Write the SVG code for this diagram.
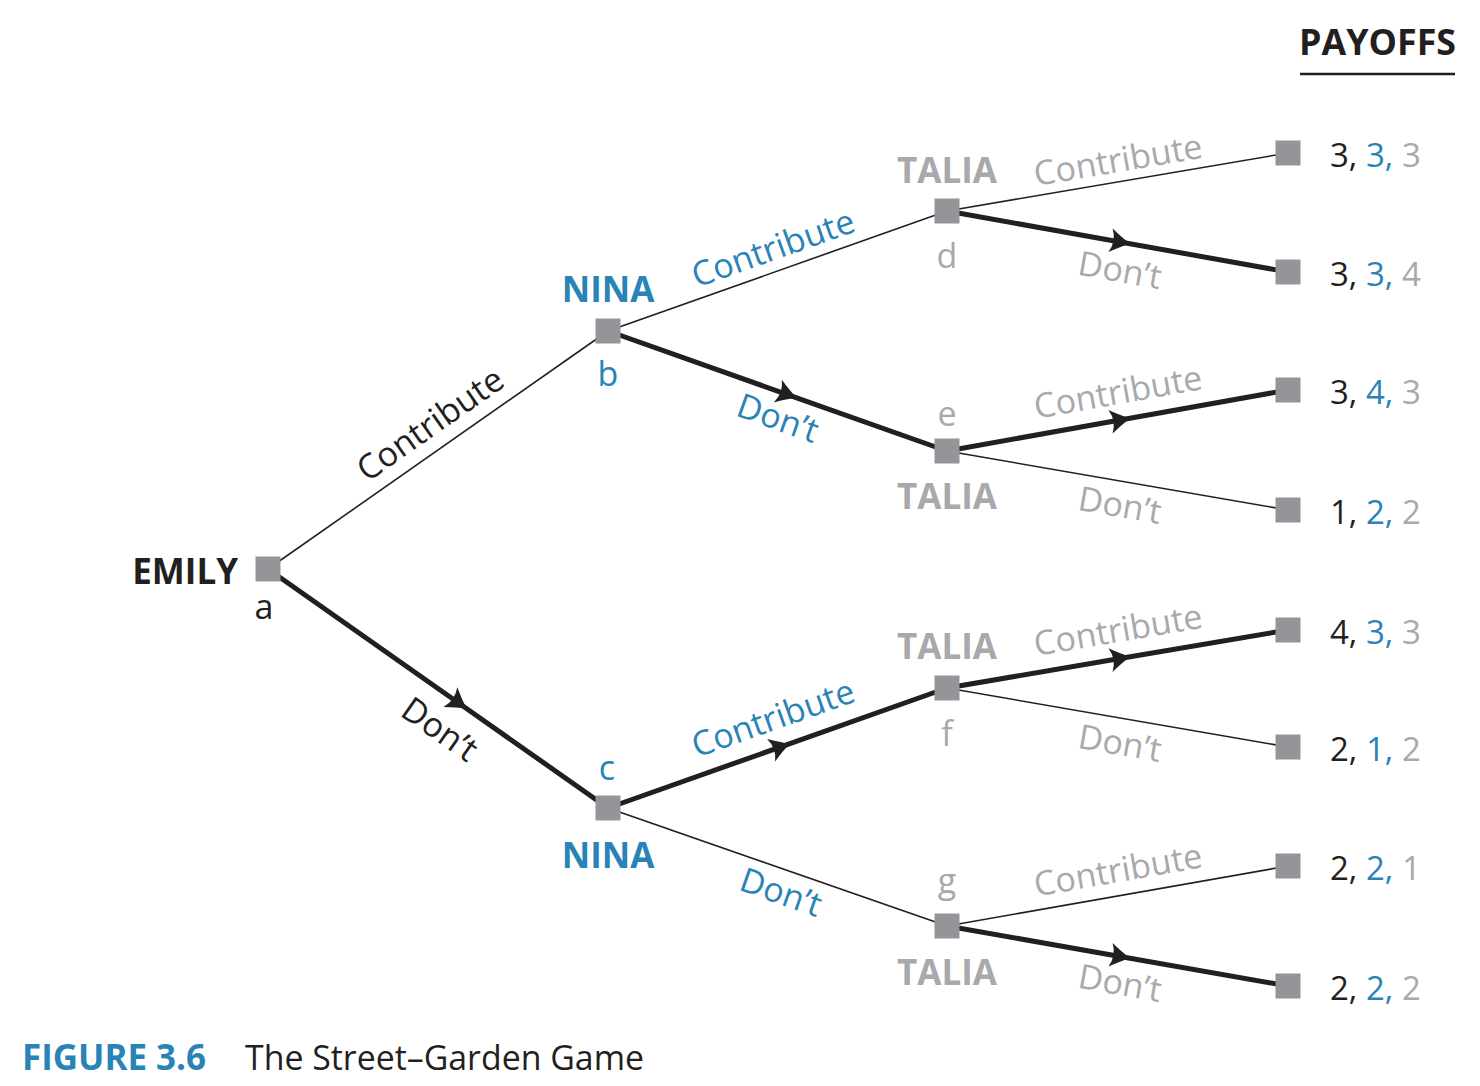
<svg xmlns="http://www.w3.org/2000/svg" width="1480" height="1086" viewBox="0 0 1480 1086">
<style>
text{font-family:"Open Sans","Noto Sans","Liberation Sans",sans-serif;}
.lbl{font-size:34px;}
.bold{font-size:35px;font-weight:bold;}
.k{fill:#231f20;}
.b{fill:#2a83b6;}
.g{fill:#a7a9ac;}
.thin{stroke:#231f20;stroke-width:1.6;fill:none;}
.thick{stroke:#231f20;stroke-width:5;fill:none;marker-mid:url(#arr);}
.node{fill:#939598;}
.pay{font-size:33px;}
</style>
<defs>
<marker id="arr" markerUnits="userSpaceOnUse" markerWidth="40" markerHeight="40" viewBox="-20 -20 40 40" refX="0" refY="0" orient="auto" overflow="visible">
<path d="M 6,0 Q -3,-4.5 -14,-12 Q -8,0 -14,12 Q -3,4.5 6,0 Z" fill="#231f20"/>
</marker>
</defs>
<rect width="1480" height="1086" fill="#ffffff"/>

<g id="connectors">
<line class="thin" x1="268" y1="569" x2="608" y2="331"/>
<polyline class="thick" points="268,569 461.8,705.2 608,808"/>
<line class="thin" x1="608" y1="331" x2="947" y2="211"/>
<polyline class="thick" points="608,331 791,395.8 947,451"/>
<polyline class="thick" points="608,808 784.3,745.6 947,688"/>
<line class="thin" x1="608" y1="808" x2="947" y2="926"/>
<line class="thin" x1="947" y1="211" x2="1288" y2="153"/>
<polyline class="thick" points="947,211 1124.3,242.7 1288,272"/>
<polyline class="thick" points="947,451 1124.3,419.3 1288,390"/>
<line class="thin" x1="947" y1="451" x2="1288" y2="510"/>
<polyline class="thick" points="947,688 1124.3,657.8 1288,630"/>
<line class="thin" x1="947" y1="688" x2="1288" y2="747"/>
<line class="thin" x1="947" y1="926" x2="1288" y2="866"/>
<polyline class="thick" points="947,926 1124.3,957.2 1288,986"/>
</g>

<g id="edge-labels">
<text class="lbl k" transform="translate(430,424) rotate(-35)" x="0" y="12" text-anchor="middle">Contribute</text>
<text class="lbl k" transform="translate(440,729) rotate(35.1)" x="0" y="12" text-anchor="middle">Don’t</text>
<text class="lbl b" transform="translate(773,248) rotate(-19.5)" x="0" y="12" text-anchor="middle">Contribute</text>
<text class="lbl b" transform="translate(778,418) rotate(19.5)" x="0" y="12" text-anchor="middle">Don’t</text>
<text class="lbl b" transform="translate(773,718) rotate(-19.5)" x="0" y="12" text-anchor="middle">Contribute</text>
<text class="lbl b" transform="translate(781,892) rotate(19.2)" x="0" y="12" text-anchor="middle">Don’t</text>
<text class="lbl g" transform="translate(1118,160) rotate(-9.65)" x="0" y="12" text-anchor="middle">Contribute</text>
<text class="lbl g" transform="translate(1120,270) rotate(10.1)" x="0" y="12" text-anchor="middle">Don’t</text>
<text class="lbl g" transform="translate(1118,392) rotate(-10.1)" x="0" y="12" text-anchor="middle">Contribute</text>
<text class="lbl g" transform="translate(1120,505) rotate(9.8)" x="0" y="12" text-anchor="middle">Don’t</text>
<text class="lbl g" transform="translate(1118,630) rotate(-9.65)" x="0" y="12" text-anchor="middle">Contribute</text>
<text class="lbl g" transform="translate(1120,743) rotate(9.8)" x="0" y="12" text-anchor="middle">Don’t</text>
<text class="lbl g" transform="translate(1118,870) rotate(-10)" x="0" y="12" text-anchor="middle">Contribute</text>
<text class="lbl g" transform="translate(1120,983) rotate(10)" x="0" y="12" text-anchor="middle">Don’t</text>
</g>

<g id="node-a">
<rect class="node" x="255.5" y="556.5" width="25" height="25"/>
<text class="bold k" x="238" y="584" text-anchor="end">EMILY</text>
<text class="lbl k" x="264" y="619" text-anchor="middle">a</text>
</g>
<g id="node-b">
<rect class="node" x="595.5" y="318.5" width="25" height="25"/>
<text class="bold b" x="608" y="302" text-anchor="middle">NINA</text>
<text class="lbl b" x="608" y="386" text-anchor="middle">b</text>
</g>
<g id="node-c">
<rect class="node" x="595.5" y="795.5" width="25" height="25"/>
<text class="lbl b" x="607" y="780" text-anchor="middle">c</text>
<text class="bold b" x="608" y="868" text-anchor="middle">NINA</text>
</g>
<g id="node-d">
<rect class="node" x="934.5" y="198.5" width="25" height="25"/>
<text class="bold g" x="947" y="183" text-anchor="middle">TALIA</text>
<text class="lbl g" x="947" y="268" text-anchor="middle">d</text>
</g>
<g id="node-e">
<rect class="node" x="934.5" y="438.5" width="25" height="25"/>
<text class="lbl g" x="947" y="426" text-anchor="middle">e</text>
<text class="bold g" x="947" y="509" text-anchor="middle">TALIA</text>
</g>
<g id="node-f">
<rect class="node" x="934.5" y="675.5" width="25" height="25"/>
<text class="bold g" x="947" y="659" text-anchor="middle">TALIA</text>
<text class="lbl g" x="947" y="746" text-anchor="middle">f</text>
</g>
<g id="node-g">
<rect class="node" x="934.5" y="913.5" width="25" height="25"/>
<text class="lbl g" x="947" y="893" text-anchor="middle">g</text>
<text class="bold g" x="947" y="985" text-anchor="middle">TALIA</text>
</g>

<g id="terminal-1"><rect class="node" x="1275.5" y="140.5" width="25" height="25"/>
<text class="pay" x="1330" y="167"><tspan class="k">3,</tspan><tspan class="b"> 3,</tspan><tspan class="g"> 3</tspan></text></g>
<g id="terminal-2"><rect class="node" x="1275.5" y="259.5" width="25" height="25"/>
<text class="pay" x="1330" y="286"><tspan class="k">3,</tspan><tspan class="b"> 3,</tspan><tspan class="g"> 4</tspan></text></g>
<g id="terminal-3"><rect class="node" x="1275.5" y="377.5" width="25" height="25"/>
<text class="pay" x="1330" y="404"><tspan class="k">3,</tspan><tspan class="b"> 4,</tspan><tspan class="g"> 3</tspan></text></g>
<g id="terminal-4"><rect class="node" x="1275.5" y="497.5" width="25" height="25"/>
<text class="pay" x="1330" y="524"><tspan class="k">1,</tspan><tspan class="b"> 2,</tspan><tspan class="g"> 2</tspan></text></g>
<g id="terminal-5"><rect class="node" x="1275.5" y="617.5" width="25" height="25"/>
<text class="pay" x="1330" y="644"><tspan class="k">4,</tspan><tspan class="b"> 3,</tspan><tspan class="g"> 3</tspan></text></g>
<g id="terminal-6"><rect class="node" x="1275.5" y="734.5" width="25" height="25"/>
<text class="pay" x="1330" y="761"><tspan class="k">2,</tspan><tspan class="b"> 1,</tspan><tspan class="g"> 2</tspan></text></g>
<g id="terminal-7"><rect class="node" x="1275.5" y="853.5" width="25" height="25"/>
<text class="pay" x="1330" y="880"><tspan class="k">2,</tspan><tspan class="b"> 2,</tspan><tspan class="g"> 1</tspan></text></g>
<g id="terminal-8"><rect class="node" x="1275.5" y="973.5" width="25" height="25"/>
<text class="pay" x="1330" y="1000"><tspan class="k">2,</tspan><tspan class="b"> 2,</tspan><tspan class="g"> 2</tspan></text></g>

<g id="header">
<text class="bold k" x="1299" y="55" textLength="157" lengthAdjust="spacingAndGlyphs">PAYOFFS</text>
<line x1="1300" y1="74" x2="1455" y2="74" stroke="#231f20" stroke-width="2.5"/>
</g>

<g id="caption">
<text class="bold b" x="22" y="1070" textLength="184" lengthAdjust="spacingAndGlyphs">FIGURE 3.6</text>
<text class="lbl k" x="245" y="1070" textLength="399" lengthAdjust="spacingAndGlyphs">The Street–Garden Game</text>
</g>
</svg>
